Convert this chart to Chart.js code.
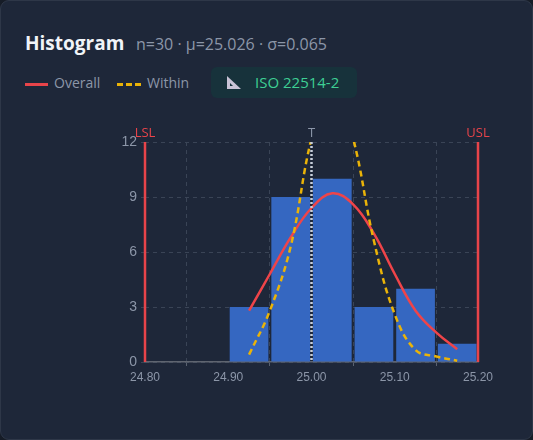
<!DOCTYPE html>
<html><head><meta charset="utf-8">
<script src="https://cdn.jsdelivr.net/npm/chart.js@4"></script>
<style>
body{margin:0;background:#161c27;font-family:"Open Sans","Noto Sans",sans-serif;}
.card{position:absolute;left:0;top:0;width:531px;height:438px;background:#1e2739;border:1px solid #2e3748;border-radius:9px;}
.title{position:absolute;left:25px;top:30px;font-size:19px;font-weight:700;color:#f1f4f8;}
.sub{position:absolute;left:136px;top:33px;font-size:16px;color:#8c96a8;}
.leg{position:absolute;top:73px;font-size:14px;color:#8c96a8;}
.badge{position:absolute;left:211px;top:67px;width:146px;height:31px;background:#17323b;border-radius:6px;color:#3ecf94;font-size:15px;}
#wrap{position:absolute;left:0;top:120px;width:533px;height:270px;}
</style></head><body>
<div class="card"></div>
<div class="title">Histogram</div>
<div class="sub">n=30 · μ=25.026 · σ=0.065</div>
<div class="leg" style="left:25px"><span style="display:inline-block;width:23px;height:3px;background:#e8444a;vertical-align:middle;margin-right:6px"></span>Overall</div>
<div class="leg" style="left:117px"><span style="display:inline-block;width:24px;border-top:3px dashed #eab308;vertical-align:middle;margin-right:6px"></span>Within</div>
<div class="badge"><svg style="position:absolute;left:15px;top:8px" width="16" height="15"><polygon points="1,1 1,14 15,14" fill="#c9c3d6"/><polygon points="4,8 4,11 7,11" fill="#17323b"/></svg><span style="position:absolute;left:44px;top:5px">ISO 22514-2</span></div>
<div id="wrap"><canvas id="c"></canvas></div>
<script>
const binCenters=[24.925,24.975,25.025,25.075,25.125,25.175];
const counts=[3,9,10,3,4,1];
const curveX=[24.925,24.95,24.975,25.0,25.025,25.05,25.075,25.1,25.125,25.15,25.175];
const overallY=[2.8,4.8,6.8,8.4,9.2,8.6,7.0,4.8,2.8,1.6,0.7];
const withinY=[0.4,2.8,6.3,12.2,15.5,12.2,6.6,2.6,0.65,0.3,0.07];
const xTicks=[24.8,24.9,25.0,25.1,25.2];
const yTicks=[0,3,6,9,12];
const LSL=24.8,USL=25.2,T=25.0;
const grey='#8c96a8';
const specPlugin={id:'spec',afterDatasetsDraw(ch){
 const c=ch.ctx,x=ch.scales.x,a=ch.chartArea;
 c.save();
 c.font='13px "Open Sans"';c.textAlign='center';c.textBaseline='bottom';
 [[LSL,'#e8444a','LSL'],[USL,'#e8444a','USL'],[T,'#c8cfdb','T']].forEach(([v,col,l])=>{
  const px=x.getPixelForValue(v);
  c.strokeStyle=col;c.lineWidth=v===T?2.5:2.5;c.setLineDash(v===T?[2,2]:[]);
  c.beginPath();c.moveTo(px,a.top);c.lineTo(px,a.bottom);c.stroke();
  c.fillStyle=v===T?grey:'#e8444a';c.fillText(l,px,a.top-2);
 });
 c.restore();}};
new Chart(document.getElementById('c'),{
 data:{datasets:[
  {type:'line',data:curveX.map((x,i)=>({x,y:overallY[i]})),borderColor:'#ef4449',borderWidth:2.5,pointRadius:0,tension:0.4,order:1},
  {type:'line',data:curveX.map((x,i)=>({x,y:withinY[i]})),borderColor:'#eab308',borderWidth:2.5,borderDash:[6,4],pointRadius:0,tension:0.4,order:0},
  {type:'bar',data:binCenters.map((x,i)=>({x,y:counts[i]})),backgroundColor:'#3567c1',barPercentage:0.93,categoryPercentage:1,order:2}
 ]},
 options:{responsive:true,maintainAspectRatio:false,animation:false,
  layout:{padding:{top:22,right:55,left:0,bottom:0}},
  plugins:{legend:{display:false},tooltip:{enabled:false}},
  scales:{
   x:{type:'linear',min:24.8,max:25.2,offset:false,
    afterFit(s){s.height=28;},
    afterBuildTicks(s){s.ticks=xTicks.map(v=>({value:v}));},
    ticks:{color:grey,font:{size:12},padding:4,callback:v=>v.toFixed(2)},
    grid:{color:'#3a4456',drawTicks:true,tickLength:4,tickColor:'#5a6270'},border:{color:'#5f6570',width:1.5,dash:[4,4]}},
   y:{min:0,max:12,afterFit(s){s.width=145;},
    afterBuildTicks(s){s.ticks=yTicks.map(v=>({value:v}));},
    ticks:{color:grey,font:{size:14},padding:4},
    grid:{color:'#3a4456',tickLength:4},border:{display:false,dash:[4,4]}}
  }},
 plugins:[specPlugin]});
</script></body></html>
